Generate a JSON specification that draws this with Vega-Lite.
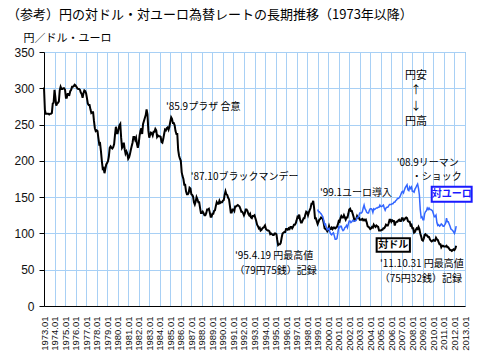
{
  "$schema": "https://vega.github.io/schema/vega-lite/v6.json",
  "width": 421,
  "height": 254,
  "autosize": {"type": "none"},
  "padding": {"left": 44, "top": 52, "right": 15, "bottom": 51},
  "background": "white",
  "title": {
    "text": "（参考）円の対ドル・対ユーロ為替レートの長期推移（1973年以降）",
    "anchor": "start",
    "frame": "group",
    "dx": -37,
    "offset": 10,
    "font": "Noto Sans CJK JP",
    "fontSize": 13,
    "fontWeight": "normal",
    "color": "black"
  },
  "config": {
    "view": {"stroke": "#8c8c8c", "strokeWidth": 1},
    "axis": {"gridColor": "#a8d0f5", "gridOpacity": 1, "gridWidth": 1, "domainColor": "black", "labelColor": "#111", "labelFont": "Liberation Sans", "labelOverlap": false},
    "axisY": {"labelOverlap": false, "tickCount": 8}
  },
  "datasets": {
    "fx": [
      {"d":"1973-01","u":301},{"d":"1973-02","u":270},{"d":"1973-03","u":265},{"d":"1973-04","u":265},{"d":"1973-05","u":265},{"d":"1973-06","u":265},{"d":"1973-07","u":264},{"d":"1973-08","u":265},{"d":"1973-09","u":265},{"d":"1973-10","u":266},{"d":"1973-11","u":279},{"d":"1973-12","u":280},
      {"d":"1974-01","u":298},{"d":"1974-02","u":287},{"d":"1974-03","u":276},{"d":"1974-04","u":279},{"d":"1974-05","u":280},{"d":"1974-06","u":282},{"d":"1974-07","u":297},{"d":"1974-08","u":302},{"d":"1974-09","u":299},{"d":"1974-10","u":299},{"d":"1974-11","u":300},{"d":"1974-12","u":300},
      {"d":"1975-01","u":298},{"d":"1975-02","u":287},{"d":"1975-03","u":287},{"d":"1975-04","u":292},{"d":"1975-05","u":292},{"d":"1975-06","u":291},{"d":"1975-07","u":296},{"d":"1975-08","u":298},{"d":"1975-09","u":302},{"d":"1975-10","u":302},{"d":"1975-11","u":303},{"d":"1975-12","u":305},
      {"d":"1976-01","u":304},{"d":"1976-02","u":302},{"d":"1976-03","u":300},{"d":"1976-04","u":299},{"d":"1976-05","u":299},{"d":"1976-06","u":298},{"d":"1976-07","u":294},{"d":"1976-08","u":292},{"d":"1976-09","u":287},{"d":"1976-10","u":293},{"d":"1976-11","u":297},{"d":"1976-12","u":296},
      {"d":"1977-01","u":293},{"d":"1977-02","u":286},{"d":"1977-03","u":279},{"d":"1977-04","u":277},{"d":"1977-05","u":277},{"d":"1977-06","u":271},{"d":"1977-07","u":266},{"d":"1977-08","u":267},{"d":"1977-09","u":267},{"d":"1977-10","u":255},{"d":"1977-11","u":245},{"d":"1977-12","u":241},
      {"d":"1978-01","u":242},{"d":"1978-02","u":241},{"d":"1978-03","u":232},{"d":"1978-04","u":223},{"d":"1978-05","u":224},{"d":"1978-06","u":213},{"d":"1978-07","u":200},{"d":"1978-08","u":189},{"d":"1978-09","u":190},{"d":"1978-10","u":183},{"d":"1978-11","u":189},{"d":"1978-12","u":195},
      {"d":"1979-01","u":197},{"d":"1979-02","u":200},{"d":"1979-03","u":206},{"d":"1979-04","u":218},{"d":"1979-05","u":220},{"d":"1979-06","u":218},{"d":"1979-07","u":217},{"d":"1979-08","u":219},{"d":"1979-09","u":223},{"d":"1979-10","u":236},{"d":"1979-11","u":247},{"d":"1979-12","u":238},
      {"d":"1980-01","u":238},{"d":"1980-02","u":244},{"d":"1980-03","u":249},{"d":"1980-04","u":251},{"d":"1980-05","u":232},{"d":"1980-06","u":218},{"d":"1980-07","u":220},{"d":"1980-08","u":225},{"d":"1980-09","u":216},{"d":"1980-10","u":210},{"d":"1980-11","u":213},{"d":"1980-12","u":210},
      {"d":"1981-01","u":203},{"d":"1981-02","u":205},{"d":"1981-03","u":209},{"d":"1981-04","u":215},{"d":"1981-05","u":220},{"d":"1981-06","u":225},{"d":"1981-07","u":233},{"d":"1981-08","u":233},{"d":"1981-09","u":229},{"d":"1981-10","u":232},{"d":"1981-11","u":223},{"d":"1981-12","u":218},
      {"d":"1982-01","u":224},{"d":"1982-02","u":235},{"d":"1982-03","u":241},{"d":"1982-04","u":245},{"d":"1982-05","u":237},{"d":"1982-06","u":251},{"d":"1982-07","u":255},{"d":"1982-08","u":259},{"d":"1982-09","u":263},{"d":"1982-10","u":271},{"d":"1982-11","u":264},{"d":"1982-12","u":242},
      {"d":"1983-01","u":232},{"d":"1983-02","u":236},{"d":"1983-03","u":239},{"d":"1983-04","u":238},{"d":"1983-05","u":235},{"d":"1983-06","u":240},{"d":"1983-07","u":240},{"d":"1983-08","u":244},{"d":"1983-09","u":242},{"d":"1983-10","u":233},{"d":"1983-11","u":235},{"d":"1983-12","u":234},
      {"d":"1984-01","u":234},{"d":"1984-02","u":233},{"d":"1984-03","u":226},{"d":"1984-04","u":225},{"d":"1984-05","u":230},{"d":"1984-06","u":237},{"d":"1984-07","u":243},{"d":"1984-08","u":242},{"d":"1984-09","u":245},{"d":"1984-10","u":246},{"d":"1984-11","u":243},{"d":"1984-12","u":247},
      {"d":"1985-01","u":254},{"d":"1985-02","u":260},{"d":"1985-03","u":258},{"d":"1985-04","u":252},{"d":"1985-05","u":252},{"d":"1985-06","u":249},{"d":"1985-07","u":241},{"d":"1985-08","u":237},{"d":"1985-09","u":237},{"d":"1985-10","u":215},{"d":"1985-11","u":207},{"d":"1985-12","u":203},
      {"d":"1986-01","u":200},{"d":"1986-02","u":184},{"d":"1986-03","u":179},{"d":"1986-04","u":175},{"d":"1986-05","u":167},{"d":"1986-06","u":167},{"d":"1986-07","u":158},{"d":"1986-08","u":154},{"d":"1986-09","u":154},{"d":"1986-10","u":156},{"d":"1986-11","u":163},{"d":"1986-12","u":162},
      {"d":"1987-01","u":154},{"d":"1987-02","u":153},{"d":"1987-03","u":151},{"d":"1987-04","u":143},{"d":"1987-05","u":140},{"d":"1987-06","u":144},{"d":"1987-07","u":150},{"d":"1987-08","u":147},{"d":"1987-09","u":143},{"d":"1987-10","u":143},{"d":"1987-11","u":135},{"d":"1987-12","u":128},
      {"d":"1988-01","u":128},{"d":"1988-02","u":130},{"d":"1988-03","u":128},{"d":"1988-04","u":125},{"d":"1988-05","u":125},{"d":"1988-06","u":128},{"d":"1988-07","u":133},{"d":"1988-08","u":133},{"d":"1988-09","u":134},{"d":"1988-10","u":129},{"d":"1988-11","u":123},{"d":"1988-12","u":123},
      {"d":"1989-01","u":127},{"d":"1989-02","u":127},{"d":"1989-03","u":131},{"d":"1989-04","u":132},{"d":"1989-05","u":138},{"d":"1989-06","u":143},{"d":"1989-07","u":141},{"d":"1989-08","u":141},{"d":"1989-09","u":145},{"d":"1989-10","u":142},{"d":"1989-11","u":143},{"d":"1989-12","u":143},
      {"d":"1990-01","u":145},{"d":"1990-02","u":146},{"d":"1990-03","u":153},{"d":"1990-04","u":158},{"d":"1990-05","u":154},{"d":"1990-06","u":153},{"d":"1990-07","u":149},{"d":"1990-08","u":147},{"d":"1990-09","u":138},{"d":"1990-10","u":129},{"d":"1990-11","u":129},{"d":"1990-12","u":133},
      {"d":"1991-01","u":133},{"d":"1991-02","u":131},{"d":"1991-03","u":137},{"d":"1991-04","u":137},{"d":"1991-05","u":138},{"d":"1991-06","u":139},{"d":"1991-07","u":138},{"d":"1991-08","u":137},{"d":"1991-09","u":134},{"d":"1991-10","u":130},{"d":"1991-11","u":130},{"d":"1991-12","u":128},
      {"d":"1992-01","u":125},{"d":"1992-02","u":128},{"d":"1992-03","u":133},{"d":"1992-04","u":133},{"d":"1992-05","u":131},{"d":"1992-06","u":127},{"d":"1992-07","u":125},{"d":"1992-08","u":127},{"d":"1992-09","u":122},{"d":"1992-10","u":121},{"d":"1992-11","u":124},{"d":"1992-12","u":124},
      {"d":"1993-01","u":125},{"d":"1993-02","u":121},{"d":"1993-03","u":117},{"d":"1993-04","u":112},{"d":"1993-05","u":110},{"d":"1993-06","u":107},{"d":"1993-07","u":108},{"d":"1993-08","u":104},{"d":"1993-09","u":105},{"d":"1993-10","u":107},{"d":"1993-11","u":108},{"d":"1993-12","u":109},
      {"d":"1994-01","u":111},{"d":"1994-02","u":106},{"d":"1994-03","u":105},{"d":"1994-04","u":104},{"d":"1994-05","u":104},{"d":"1994-06","u":103},{"d":"1994-07","u":99},{"d":"1994-08","u":100},{"d":"1994-09","u":99},{"d":"1994-10","u":98},{"d":"1994-11","u":98},{"d":"1994-12","u":100},
      {"d":"1995-01","u":100},{"d":"1995-02","u":99},{"d":"1995-03","u":91},{"d":"1995-04","u":84},{"d":"1995-05","u":85},{"d":"1995-06","u":85},{"d":"1995-07","u":87},{"d":"1995-08","u":94},{"d":"1995-09","u":100},{"d":"1995-10","u":101},{"d":"1995-11","u":102},{"d":"1995-12","u":102},
      {"d":"1996-01","u":106},{"d":"1996-02","u":106},{"d":"1996-03","u":105},{"d":"1996-04","u":107},{"d":"1996-05","u":106},{"d":"1996-06","u":109},{"d":"1996-07","u":109},{"d":"1996-08","u":107},{"d":"1996-09","u":109},{"d":"1996-10","u":112},{"d":"1996-11","u":112},{"d":"1996-12","u":114},
      {"d":"1997-01","u":118},{"d":"1997-02","u":123},{"d":"1997-03","u":122},{"d":"1997-04","u":126},{"d":"1997-05","u":119},{"d":"1997-06","u":115},{"d":"1997-07","u":115},{"d":"1997-08","u":118},{"d":"1997-09","u":121},{"d":"1997-10","u":121},{"d":"1997-11","u":126},{"d":"1997-12","u":130},
      {"d":"1998-01","u":129},{"d":"1998-02","u":125},{"d":"1998-03","u":129},{"d":"1998-04","u":132},{"d":"1998-05","u":135},{"d":"1998-06","u":141},{"d":"1998-07","u":141},{"d":"1998-08","u":145},{"d":"1998-09","u":135},{"d":"1998-10","u":121},{"d":"1998-11","u":121},{"d":"1998-12","u":117},
      {"d":"1999-01","u":113,"e":133},{"d":"1999-02","u":116,"e":130},{"d":"1999-03","u":119,"e":130},{"d":"1999-04","u":120,"e":128},{"d":"1999-05","u":122,"e":127},{"d":"1999-06","u":121,"e":125},{"d":"1999-07","u":120,"e":123},{"d":"1999-08","u":114,"e":118},{"d":"1999-09","u":107,"e":112},{"d":"1999-10","u":106,"e":113},{"d":"1999-11","u":105,"e":108},{"d":"1999-12","u":103,"e":105},
      {"d":"2000-01","u":105,"e":106},{"d":"2000-02","u":110,"e":107},{"d":"2000-03","u":106,"e":102},{"d":"2000-04","u":106,"e":99},{"d":"2000-05","u":108,"e":98},{"d":"2000-06","u":106,"e":100},{"d":"2000-07","u":108,"e":101},{"d":"2000-08","u":108,"e":97},{"d":"2000-09","u":107,"e":92},{"d":"2000-10","u":108,"e":92},{"d":"2000-11","u":109,"e":93},{"d":"2000-12","u":112,"e":100},
      {"d":"2001-01","u":117,"e":109},{"d":"2001-02","u":116,"e":108},{"d":"2001-03","u":121,"e":110},{"d":"2001-04","u":124,"e":110},{"d":"2001-05","u":122,"e":106},{"d":"2001-06","u":122,"e":104},{"d":"2001-07","u":125,"e":105},{"d":"2001-08","u":122,"e":108},{"d":"2001-09","u":119,"e":109},{"d":"2001-10","u":122,"e":111},{"d":"2001-11","u":122,"e":108},{"d":"2001-12","u":127,"e":113},
      {"d":"2002-01","u":133,"e":117},{"d":"2002-02","u":134,"e":117},{"d":"2002-03","u":131,"e":115},{"d":"2002-04","u":131,"e":116},{"d":"2002-05","u":127,"e":118},{"d":"2002-06","u":123,"e":117},{"d":"2002-07","u":118,"e":117},{"d":"2002-08","u":119,"e":117},{"d":"2002-09","u":120,"e":118},{"d":"2002-10","u":124,"e":122},{"d":"2002-11","u":122,"e":122},{"d":"2002-12","u":122,"e":124},
      {"d":"2003-01","u":119,"e":128},{"d":"2003-02","u":119,"e":128},{"d":"2003-03","u":119,"e":128},{"d":"2003-04","u":120,"e":130},{"d":"2003-05","u":118,"e":135},{"d":"2003-06","u":119,"e":139},{"d":"2003-07","u":118,"e":134},{"d":"2003-08","u":119,"e":132},{"d":"2003-09","u":115,"e":129},{"d":"2003-10","u":110,"e":128},{"d":"2003-11","u":109,"e":128},{"d":"2003-12","u":108,"e":132},
      {"d":"2004-01","u":106,"e":134},{"d":"2004-02","u":107,"e":134},{"d":"2004-03","u":109,"e":133},{"d":"2004-04","u":108,"e":129},{"d":"2004-05","u":112,"e":134},{"d":"2004-06","u":110,"e":133},{"d":"2004-07","u":109,"e":134},{"d":"2004-08","u":111,"e":135},{"d":"2004-09","u":110,"e":135},{"d":"2004-10","u":109,"e":136},{"d":"2004-11","u":104,"e":136},{"d":"2004-12","u":104,"e":139},
      {"d":"2005-01","u":104,"e":137},{"d":"2005-02","u":105,"e":137},{"d":"2005-03","u":105,"e":138},{"d":"2005-04","u":107,"e":139},{"d":"2005-05","u":107,"e":135},{"d":"2005-06","u":109,"e":132},{"d":"2005-07","u":112,"e":135},{"d":"2005-08","u":111,"e":136},{"d":"2005-09","u":111,"e":136},{"d":"2005-10","u":114,"e":138},{"d":"2005-11","u":119,"e":140},{"d":"2005-12","u":119,"e":140},
      {"d":"2006-01","u":116,"e":140},{"d":"2006-02","u":118,"e":141},{"d":"2006-03","u":117,"e":141},{"d":"2006-04","u":117,"e":143},{"d":"2006-05","u":111,"e":143},{"d":"2006-06","u":115,"e":145},{"d":"2006-07","u":116,"e":146},{"d":"2006-08","u":116,"e":148},{"d":"2006-09","u":118,"e":148},{"d":"2006-10","u":119,"e":149},{"d":"2006-11","u":117,"e":151},{"d":"2006-12","u":117,"e":154},
      {"d":"2007-01","u":121,"e":157},{"d":"2007-02","u":121,"e":158},{"d":"2007-03","u":118,"e":156},{"d":"2007-04","u":119,"e":160},{"d":"2007-05","u":121,"e":163},{"d":"2007-06","u":122,"e":165},{"d":"2007-07","u":121,"e":167},{"d":"2007-08","u":117,"e":160},{"d":"2007-09","u":116,"e":159},{"d":"2007-10","u":116,"e":164},{"d":"2007-11","u":111,"e":162},{"d":"2007-12","u":112,"e":164},
      {"d":"2008-01","u":107,"e":158},{"d":"2008-02","u":107,"e":158},{"d":"2008-03","u":101,"e":157},{"d":"2008-04","u":102,"e":161},{"d":"2008-05","u":105,"e":163},{"d":"2008-06","u":107,"e":166},{"d":"2008-07","u":106,"e":168},{"d":"2008-08","u":109,"e":162},{"d":"2008-09","u":106,"e":153},{"d":"2008-10","u":100,"e":133},{"d":"2008-11","u":96,"e":122},{"d":"2008-12","u":91,"e":123},
      {"d":"2009-01","u":90,"e":119},{"d":"2009-02","u":93,"e":119},{"d":"2009-03","u":98,"e":127},{"d":"2009-04","u":99,"e":130},{"d":"2009-05","u":97,"e":131},{"d":"2009-06","u":97,"e":135},{"d":"2009-07","u":95,"e":133},{"d":"2009-08","u":95,"e":135},{"d":"2009-09","u":92,"e":133},{"d":"2009-10","u":90,"e":133},{"d":"2009-11","u":89,"e":132},{"d":"2009-12","u":90,"e":131},
      {"d":"2010-01","u":91,"e":127},{"d":"2010-02","u":90,"e":123},{"d":"2010-03","u":90,"e":123},{"d":"2010-04","u":94,"e":125},{"d":"2010-05","u":92,"e":115},{"d":"2010-06","u":91,"e":111},{"d":"2010-07","u":88,"e":112},{"d":"2010-08","u":85,"e":110},{"d":"2010-09","u":85,"e":111},{"d":"2010-10","u":81,"e":113},{"d":"2010-11","u":83,"e":112},{"d":"2010-12","u":83,"e":110},
      {"d":"2011-01","u":82,"e":110},{"d":"2011-02","u":82,"e":112},{"d":"2011-03","u":82,"e":114},{"d":"2011-04","u":83,"e":121},{"d":"2011-05","u":81,"e":116},{"d":"2011-06","u":81,"e":116},{"d":"2011-07","u":79,"e":113},{"d":"2011-08","u":77,"e":110},{"d":"2011-09","u":77,"e":106},{"d":"2011-10","u":76,"e":105},{"d":"2011-11","u":77,"e":104},{"d":"2011-12","u":78,"e":102},
      {"d":"2012-01","u":77,"e":100},{"d":"2012-02","u":79,"e":104},{"d":"2012-03","u":83,"e":110}
    ],
    "notes": [
      {"d":"1984-08-03","v":274.6,"t":"'85.9プラザ 合意"},
      {"d":"1986-12-10","v":178.2,"t":"'87.10ブラックマンデー"},
      {"d":"1999-03-20","v":155.3,"t":"'99.1ユーロ導入"},
      {"d":"2006-07-05","v":197.6,"t":"'08.9リーマン"},
      {"d":"2007-12-10","v":177.2,"t":"・ショック"},
      {"d":"1991-02-24","v":68.9,"t":"'95.4.19 円最高値"},
      {"d":"1991-02-10","v":48.6,"t":"（79円75銭）記録"},
      {"d":"2004-12-03","v":57.4,"t":"'11.10.31 円最高値"},
      {"d":"2004-11-25","v":36.8,"t":"（75円32銭）記録"}
    ],
    "arrow": [
      {"d":"2008-05-04","v":317.5,"t":"円安"},
      {"d":"2008-05-04","v":296.6,"t":"↑"},
      {"d":"2008-05-04","v":274.8,"t":"↓"},
      {"d":"2008-05-04","v":253.5,"t":"円高"}
    ],
    "boxes": [
      {"s":"usd","t":"対ドル","d":"2004-08-10","d2":"2007-10-08","v":93.3,"v2":74.8,"dc":"2006-03-10","vc":84},
      {"s":"eur","t":"対ユーロ","d":"2009-11-03","d2":"2013-08-20","v":164.4,"v2":143.7,"dc":"2011-09-27","vc":154}
    ]
  },
  "layer": [
    {
      "data": {"name": "fx"},
      "mark": {"type": "line", "color": "black", "strokeWidth": 2},
      "encoding": {
        "x": {"field": "d", "type": "temporal",
          "scale": {"domain": [{"year":1973,"month":1,"date":1},{"year":2013,"month":1,"date":1}]},
          "axis": {"title": null, "format": "%Y.%m", "labelAngle": -90, "tickCount": {"interval": "year", "step": 1}, "labelOverlap": false, "labelFlush": false, "labelFontSize": 9.5, "ticks": false, "labelPadding": 10, "grid": true}},
        "y": {"field": "u", "type": "quantitative",
          "scale": {"domain": [0, 350], "nice": false},
          "axis": {"values": [0,50,100,150,200,250,300,350], "labelOverlap": false, "labelFlush": false, "tickSize": 5, "tickColor": "black", "labelPadding": 5, "labelFontSize": 12,
            "title": "円／ドル・ユーロ", "titleAngle": 0, "titleAlign": "left", "titleBaseline": "middle", "titleX": -21, "titleY": -14, "titleFont": "Noto Sans CJK JP", "titleFontSize": 11, "titleFontWeight": "normal", "titleColor": "black", "grid": true}}
      }
    },
    {
      "data": {"name": "fx"},
      "transform": [{"filter": "isValid(datum.e)"}],
      "mark": {"type": "line", "color": "#3366ff", "strokeWidth": 1.5},
      "encoding": {
        "x": {"field": "d", "type": "temporal", "scale": {"domain": [{"year":1973,"month":1,"date":1},{"year":2013,"month":1,"date":1}]}},
        "y": {"field": "e", "type": "quantitative", "scale": {"domain": [0, 350], "nice": false}, "axis": {"values": [0,50,100,150,200,250,300,350], "labelOverlap": false}}
      }
    },
    {
      "data": {"name": "notes"},
      "mark": {"type": "text", "align": "left", "baseline": "middle", "font": "Noto Sans CJK JP", "fontSize": 10, "color": "black"},
      "encoding": {
        "x": {"field": "d", "type": "temporal", "scale": {"domain": [{"year":1973,"month":1,"date":1},{"year":2013,"month":1,"date":1}]}},
        "y": {"field": "v", "type": "quantitative", "scale": {"domain": [0, 350], "nice": false}, "axis": {"values": [0,50,100,150,200,250,300,350], "labelOverlap": false}},
        "text": {"field": "t"}
      }
    },
    {
      "data": {"name": "arrow"},
      "mark": {"type": "text", "align": "center", "baseline": "middle", "font": "Noto Sans CJK JP", "fontSize": 11, "color": "black"},
      "encoding": {
        "x": {"field": "d", "type": "temporal", "scale": {"domain": [{"year":1973,"month":1,"date":1},{"year":2013,"month":1,"date":1}]}},
        "y": {"field": "v", "type": "quantitative", "scale": {"domain": [0, 350], "nice": false}, "axis": {"values": [0,50,100,150,200,250,300,350], "labelOverlap": false}},
        "text": {"field": "t"}
      }
    },
    {
      "data": {"name": "boxes"},
      "mark": {"type": "rect", "fill": "white", "strokeWidth": 2},
      "encoding": {
        "x": {"field": "d", "type": "temporal", "scale": {"domain": [{"year":1973,"month":1,"date":1},{"year":2013,"month":1,"date":1}]}},
        "x2": {"field": "d2"},
        "y": {"field": "v", "type": "quantitative", "scale": {"domain": [0, 350], "nice": false}, "axis": {"values": [0,50,100,150,200,250,300,350], "labelOverlap": false}},
        "y2": {"field": "v2"},
        "stroke": {"field": "s", "type": "nominal", "scale": {"domain": ["usd", "eur"], "range": ["black", "#1a1aff"]}, "legend": null}
      }
    },
    {
      "data": {"name": "boxes"},
      "mark": {"type": "text", "align": "center", "baseline": "middle", "font": "Noto Sans CJK JP", "fontSize": 10, "fontWeight": "bold"},
      "encoding": {
        "x": {"field": "dc", "type": "temporal", "scale": {"domain": [{"year":1973,"month":1,"date":1},{"year":2013,"month":1,"date":1}]}},
        "y": {"field": "vc", "type": "quantitative", "scale": {"domain": [0, 350], "nice": false}, "axis": {"values": [0,50,100,150,200,250,300,350], "labelOverlap": false}},
        "text": {"field": "t"},
        "color": {"field": "s", "type": "nominal", "scale": {"domain": ["usd", "eur"], "range": ["black", "#1a1aff"]}, "legend": null}
      }
    }
  ]
}
